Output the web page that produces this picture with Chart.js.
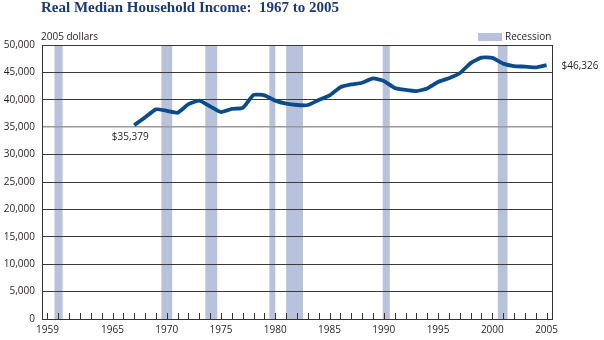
<!DOCTYPE html>
<html>
<head>
<meta charset="utf-8">
<script src="https://cdn.jsdelivr.net/npm/chart.js@4"></script>
<style>
  body { margin: 0; background: #fff; }
  #wrap { position: relative; width: 604px; height: 340px; }
  #grafico { position: absolute; left: 0; top: 0; }
  .titulo { position: absolute; left: 41px; top: 0px; font: bold 15px "Liberation Serif", serif; line-height: 15px; color: #1b3a78; white-space: pre; }
  .unidad { position: absolute; left: 41px; top: 30px; font: 10px "Open Sans", sans-serif; line-height: 12px; color: #231f20; }
  .leyenda { position: absolute; left: 478px; top: 30px; font: 10px "Open Sans", sans-serif; line-height: 12px; color: #231f20; }
  .leyenda span { display: inline-block; width: 24px; height: 8px; background: #b8c2dd; margin-right: 3px; vertical-align: -1px; }
</style>
</head>
<body>
<div id="wrap">
  <canvas id="grafico" width="604" height="340"></canvas>
  <div class="titulo">Real Median Household Income:  1967 to 2005</div>
  <div class="unidad">2005 dollars</div>
  <div class="leyenda"><span></span>Recession</div>
</div>
<script>
// Datos
const anios = [1967, 1968, 1969, 1970, 1971, 1972, 1973, 1974, 1975, 1976,
    1977, 1978, 1979, 1980, 1981, 1982, 1983, 1984, 1985, 1986,
    1987, 1988, 1989, 1990, 1991, 1992, 1993, 1994, 1995, 1996,
    1997, 1998, 1999, 2000, 2001, 2002, 2003, 2004, 2005];
const ingresos = [35379, 36800, 38263, 38000, 37641, 39198, 39853, 38800, 37756, 38347,
    38530, 40900, 40813, 39850, 39300, 39050, 39050, 39966, 40800, 42300,
    42800, 43111, 43900, 43450, 42171, 41792, 41584, 42074, 43250, 43950,
    44850, 46700, 47700, 47650, 46600, 46150, 46050, 45900, 46326];
const recesionInicio = [1959.65, 1969.5, 1973.55, 1979.45, 1981.0, 1989.9, 2000.5];
const recesionFin = [1960.4, 1970.5, 1974.65, 1980.0, 1982.55, 1990.55, 2001.4];
const etiquetasX = [1959, 1965, 1970, 1975, 1980, 1985, 1990, 1995, 2000, 2005];
const primerAnio = 1959;
const ultimoAnio = 2005;
const notas = [
    { anio: 1967, texto: '$35,379' },
    { anio: 2005, texto: '$46,326' }
];

const fuente = { family: '"Open Sans", sans-serif', size: 10 };
const formatear = (v) => v.toLocaleString('en-US');

// Bandas de recesion, marcas de anios y notas
const extras = {
    id: 'extras',
    beforeDraw(chart) {
        const { ctx, chartArea, scales } = chart;
        ctx.save();
        ctx.fillStyle = '#b8c2dd';
        recesionInicio.forEach((ini, i) => {
            const x0 = scales.x.getPixelForValue(ini);
            const x1 = scales.x.getPixelForValue(recesionFin[i]);
            ctx.fillRect(x0, chartArea.top, x1 - x0, chartArea.bottom - chartArea.top);
        });
        ctx.restore();
    },
    beforeDatasetsDraw(chart) {
        const { ctx, chartArea, scales } = chart;
        ctx.save();
        ctx.strokeStyle = '#333';
        ctx.lineWidth = 1;
        ctx.beginPath();
        for (let a = primerAnio; a <= ultimoAnio; a++) {
            const x = Math.round(scales.x.getPixelForValue(a)) + 0.5;
            ctx.moveTo(x, chartArea.bottom);
            ctx.lineTo(x, chartArea.bottom - 6);
        }
        // borde derecho
        ctx.moveTo(chartArea.right + 0.5, chartArea.top);
        ctx.lineTo(chartArea.right + 0.5, chartArea.bottom);
        ctx.stroke();
        ctx.restore();
    },
    afterDraw(chart) {
        const { ctx, scales } = chart;
        ctx.save();
        ctx.font = '10px "Open Sans", sans-serif';
        ctx.fillStyle = '#231f20';
        ctx.textBaseline = 'middle';
        notas.forEach((n, i) => {
            const x = scales.x.getPixelForValue(n.anio);
            const y = scales.y.getPixelForValue(ingresos[anios.indexOf(n.anio)]);
            if (i === 0) {
                ctx.textAlign = 'center';
                ctx.fillText(n.texto, x - 4, y + 12);
            } else {
                ctx.textAlign = 'left';
                ctx.fillText(n.texto, x + 15, y + 1);
            }
        });
        ctx.restore();
    }
};

const datos = {
    datasets: [{
        label: 'Real Median Household Income',
        data: anios.map((a, i) => ({ x: a, y: ingresos[i] })),
        borderColor: '#0b4a8b',
        borderWidth: 3.8,
        pointRadius: 0,
        fill: false,
        tension: 0.15,
        borderCapStyle: 'butt',
        borderJoinStyle: 'round'
    }]
};

const opciones = {
    responsive: false,
    animation: false,
    layout: { padding: { top: 45, right: 52, bottom: 0, left: 0 } },
    plugins: {
        legend: { display: false },
        tooltip: { enabled: false }
    },
    scales: {
        x: {
            type: 'linear',
            min: primerAnio - 0.5,
            max: ultimoAnio + 0.5,
            afterBuildTicks: (s) => { s.ticks = etiquetasX.map(v => ({ value: v })); },
            afterFit: (s) => { s.height = 21; },
            ticks: { callback: (v) => String(v), font: fuente, color: '#231f20', padding: 5, maxRotation: 0, autoSkip: false },
            grid: { drawOnChartArea: false, drawTicks: false },
            border: { display: true, color: '#333', width: 1 }
        },
        y: {
            min: 0,
            max: 50000,
            afterFit: (s) => { s.width = 42; },
            ticks: { stepSize: 5000, callback: (v) => formatear(v), font: fuente, color: '#231f20', padding: 7 },
            grid: {
                drawTicks: false,
                color: (c) => c.tick && c.tick.value === 35000 ? '#9a9a9a' : '#3a3a3a',
                lineWidth: (c) => c.tick && c.tick.value === 35000 ? 1.5 : 1
            },
            border: { display: true, color: '#333', width: 1 }
        }
    }
};

const ctx = document.getElementById('grafico').getContext('2d');
const miGrafico = new Chart(ctx, { type: 'line', data: datos, options: opciones, plugins: [extras] });
</script>
</body>
</html>
